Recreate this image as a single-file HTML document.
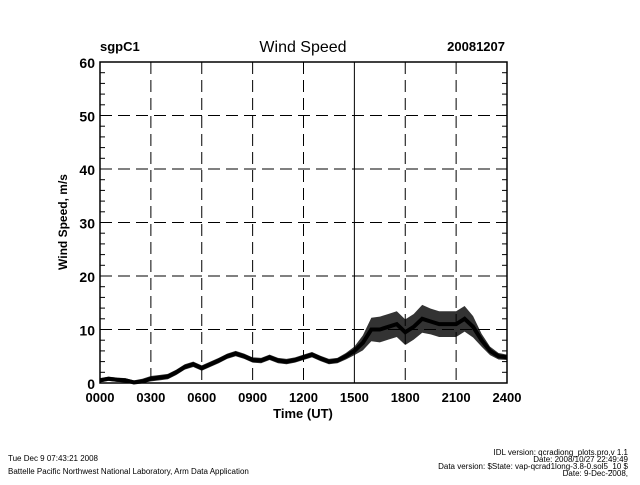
<!DOCTYPE html>
<html><head><meta charset="utf-8"><style>
body{margin:0;background:#fff;width:640px;height:480px;overflow:hidden;font-family:"Liberation Sans",sans-serif}
svg text{font-family:"Liberation Sans",sans-serif;fill:#000}
</style></head><body>
<svg id="c" width="640" height="480" xmlns="http://www.w3.org/2000/svg">
<text x="100" y="51" font-size="13" font-weight="bold">sgpC1</text>
<text x="303" y="52" font-size="16" text-anchor="middle">Wind Speed</text>
<text x="505" y="51" font-size="13" font-weight="bold" text-anchor="end">20081207</text>
<text transform="translate(67,222) rotate(-90)" font-size="12" font-weight="bold" text-anchor="middle">Wind Speed, m/s</text>
<text x="303" y="418" font-size="13" font-weight="bold" text-anchor="middle">Time (UT)</text>
<g id="grid"></g><g id="data"></g><g id="axes"></g>
<text x="8" y="461" font-size="8">Tue Dec  9 07:43:21 2008</text>
<text x="8" y="474" font-size="8">Battelle Pacific Northwest National Laboratory, Arm Data Application</text>
<text x="628" y="455" font-size="8" text-anchor="end">IDL version: qcradiong_plots.pro,v 1.1</text>
<text x="628" y="462" font-size="8" text-anchor="end">Date: 2008/10/27 22:49:49</text>
<text x="628" y="469" font-size="8" text-anchor="end">Data version: $State: vap-qcrad1long-3.8-0.sol5_10 $</text>
<text x="628" y="476" font-size="8" text-anchor="end">Date: 9-Dec-2008,</text>
</svg>
<script>
const hours=[0,0.5,1,1.5,2,2.5,3,3.5,4,4.5,5,5.5,6,6.5,7,7.5,8,8.5,9,9.5,10,10.5,11,11.5,12,12.5,13,13.5,14,14.5,15,15.5,16,16.5,17,17.5,18,18.5,19,19.5,20,20.5,21,21.5,22,22.5,23,23.5,24];
const speed=[0.5,0.8,0.6,0.5,0.1,0.3,0.8,1.0,1.2,2.0,3.0,3.5,2.8,3.5,4.2,5.0,5.5,5.0,4.3,4.2,4.8,4.2,4.0,4.3,4.8,5.3,4.6,4.0,4.2,5.0,6.0,7.5,10.0,10.0,10.5,11.0,9.5,10.5,12.0,11.5,11.0,11.0,11.0,12.0,10.5,8.0,6.0,5.0,4.8];
const spread=[0.4,0.4,0.4,0.4,0.4,0.5,0.5,0.5,0.5,0.5,0.5,0.5,0.5,0.5,0.5,0.5,0.5,0.5,0.5,0.5,0.5,0.5,0.5,0.5,0.5,0.5,0.5,0.5,0.5,0.6,0.8,1.4,2.2,2.4,2.4,2.4,2.4,2.4,2.6,2.4,2.4,2.4,2.4,2.4,2.0,1.2,0.8,0.6,0.5];
const xTicks=["0000","0300","0600","0900","1200","1500","1800","2100","2400"];
const yTicks=[0,10,20,30,40,50,60];
const L=100,R=507,T=62,B=383,NS="http://www.w3.org/2000/svg";
const X=h=>L+(R-L)*h/24, Y=v=>B-(B-T)*v/60;
function mk(tag,at,parent){const e=document.createElementNS(NS,tag);for(const k in at)e.setAttribute(k,at[k]);parent.appendChild(e);return e;}
const g=document.getElementById('grid'),d=document.getElementById('data'),a=document.getElementById('axes');
xTicks.forEach((t,i)=>{const x=X(i*3);
 if(i>0&&i<8){const ln=mk('line',{x1:x,x2:x,y1:T,y2:B,stroke:'#000','stroke-width':1,'stroke-dasharray':i==5?'none':'12,6'},g);
 
 }
 const tx=mk('text',{x:x,y:402,'font-size':13,'font-weight':'bold','text-anchor':'middle'},a);tx.textContent=t;
 
 });
yTicks.forEach(v=>{const y=Y(v);
 if(v>0&&v<60){const ln=mk('line',{x1:L,x2:R,y1:y,y2:y,stroke:'#000','stroke-width':1,'stroke-dasharray':'12,6'},g);
 
 }
 const tx=mk('text',{x:95,y:y+6,'font-size':14,'font-weight':'bold','text-anchor':'end'},a);tx.textContent=v;
 
 });
for(let v=0;v<=60;v+=2){const y=Y(v),len=v%10==0?10:5;
 mk('line',{x1:L,x2:L+len,y1:y,y2:y,stroke:'#000'},a);mk('line',{x1:R,x2:R-len,y1:y,y2:y,stroke:'#000'},a);}
const fr=mk('rect',{x:L,y:T,width:R-L,height:B-T,fill:'none',stroke:'#000','stroke-width':1.5},a);


let up=hours.map((h,i)=>X(h)+','+Y(speed[i]+spread[i])).join(' ');
let dn=hours.map((h,i)=>X(h)+','+Y(Math.max(0,speed[i]-spread[i]))).reverse().join(' ');
const band=mk('polygon',{points:up+' '+dn,fill:'#000','fill-opacity':0.8},d);


const line=mk('polyline',{points:hours.map((h,i)=>X(h)+','+Y(speed[i])).join(' '),fill:'none',stroke:'#000','stroke-width':4},d);


</script>
</body></html>
